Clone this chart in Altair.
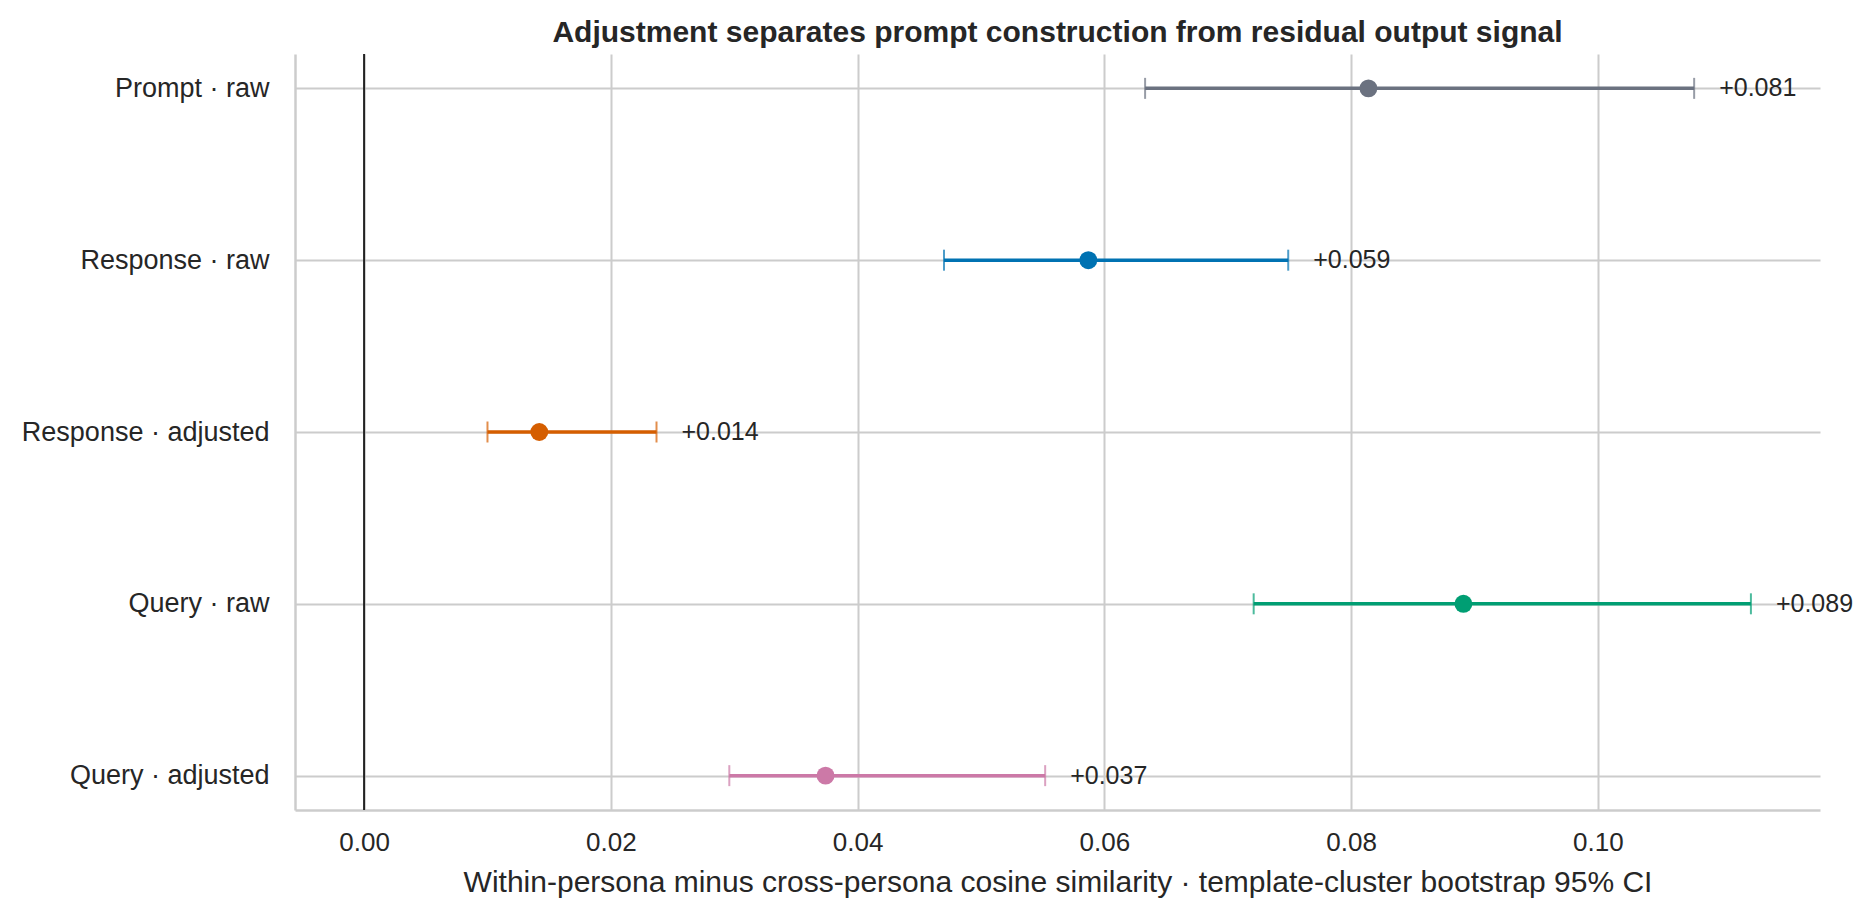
import altair as alt
import pandas as pd

labels = ["Prompt · raw", "Response · raw", "Response · adjusted", "Query · raw", "Query · adjusted"]
estimates = [0.0814, 0.0587, 0.0142, 0.0891, 0.0374]
ci_low = [0.0633, 0.0470, 0.0100, 0.0721, 0.0296]
ci_high = [0.1078, 0.0749, 0.0237, 0.1124, 0.0552]
colors = ["#6B7280", "#0072B2", "#D55E00", "#009E73", "#CC79A7"]
x_ticks = [0.0, 0.02, 0.04, 0.06, 0.08, 0.10]

df = pd.DataFrame({
    "label": labels,
    "est": estimates,
    "lo": ci_low,
    "hi": ci_high,
})
df["text"] = ["+{:.3f}".format(v) for v in estimates]

FONT = "Liberation Sans"
INK = "#262626"
GRID = "#cccccc"

x_scale = alt.Scale(domain=[-0.0056, 0.1180], nice=False, zero=False)
y_enc = alt.Y(
    "label:N",
    sort=labels,
    scale=alt.Scale(type="point", padding=0.2),
    axis=alt.Axis(
        title=None,
        grid=True,
        ticks=False,
        labelPadding=26,
        labelFontSize=27,
        labelLimit=1000,
        labelColor=INK,
        labelFont=FONT,
        domainColor=GRID,
        domainWidth=2.5,
        gridColor=GRID,
        gridWidth=2,
    ),
)
color_enc = alt.Color("label:N", scale=alt.Scale(domain=labels, range=colors), legend=None)

base = alt.Chart(df)

bars = base.mark_rule(strokeWidth=3.5).encode(
    x=alt.X(
        "lo:Q",
        scale=x_scale,
        axis=alt.Axis(
            values=x_ticks,
            format=".2f",
            title="Within-persona minus cross-persona cosine similarity · template-cluster bootstrap 95% CI",
            titleFontSize=30,
            titleFontWeight="normal",
            titleColor=INK,
            titleFont=FONT,
            titlePadding=12,
            ticks=False,
            labelPadding=19,
            labelFontSize=26,
            labelColor=INK,
            labelFont=FONT,
            domainColor=GRID,
            domainWidth=2.5,
            gridColor=GRID,
            gridWidth=2,
        ),
    ),
    x2="hi:Q",
    y=y_enc,
    color=color_enc,
)

cap_lo = base.mark_tick(size=21, thickness=2).encode(
    x=alt.X("lo:Q", scale=x_scale), y=alt.Y("label:N", sort=labels), color=color_enc
)
cap_hi = base.mark_tick(size=21, thickness=2).encode(
    x=alt.X("hi:Q", scale=x_scale), y=alt.Y("label:N", sort=labels), color=color_enc
)

points = base.mark_circle(size=320, opacity=1).encode(
    x=alt.X("est:Q", scale=x_scale), y=alt.Y("label:N", sort=labels), color=color_enc
)

texts = base.mark_text(
    align="left", baseline="middle", dx=25, fontSize=25, font=FONT, color=INK
).encode(
    x=alt.X("hi:Q", scale=x_scale), y=alt.Y("label:N", sort=labels), text="text:N"
)

zero = alt.Chart(pd.DataFrame({"z": [0.0]})).mark_rule(color="#222222", strokeWidth=2).encode(
    x=alt.X("z:Q", scale=x_scale)
)

chart = alt.layer(zero, bars, cap_lo, cap_hi, points, texts).properties(
    width=1525,
    height=756,
    title=alt.TitleParams(
        "Adjustment separates prompt construction from residual output signal",
        fontSize=30,
        fontWeight="bold",
        font=FONT,
        color=INK,
        anchor="middle",
        offset=5,
    ),
    autosize=alt.AutoSizeParams(type="none"),
    padding={"left": 287, "top": 46, "right": 41, "bottom": 98},
).configure(background="white").configure_view(stroke="transparent", strokeWidth=0)

chart.save("out.html", embed_options={"renderer": "svg", "actions": False})
